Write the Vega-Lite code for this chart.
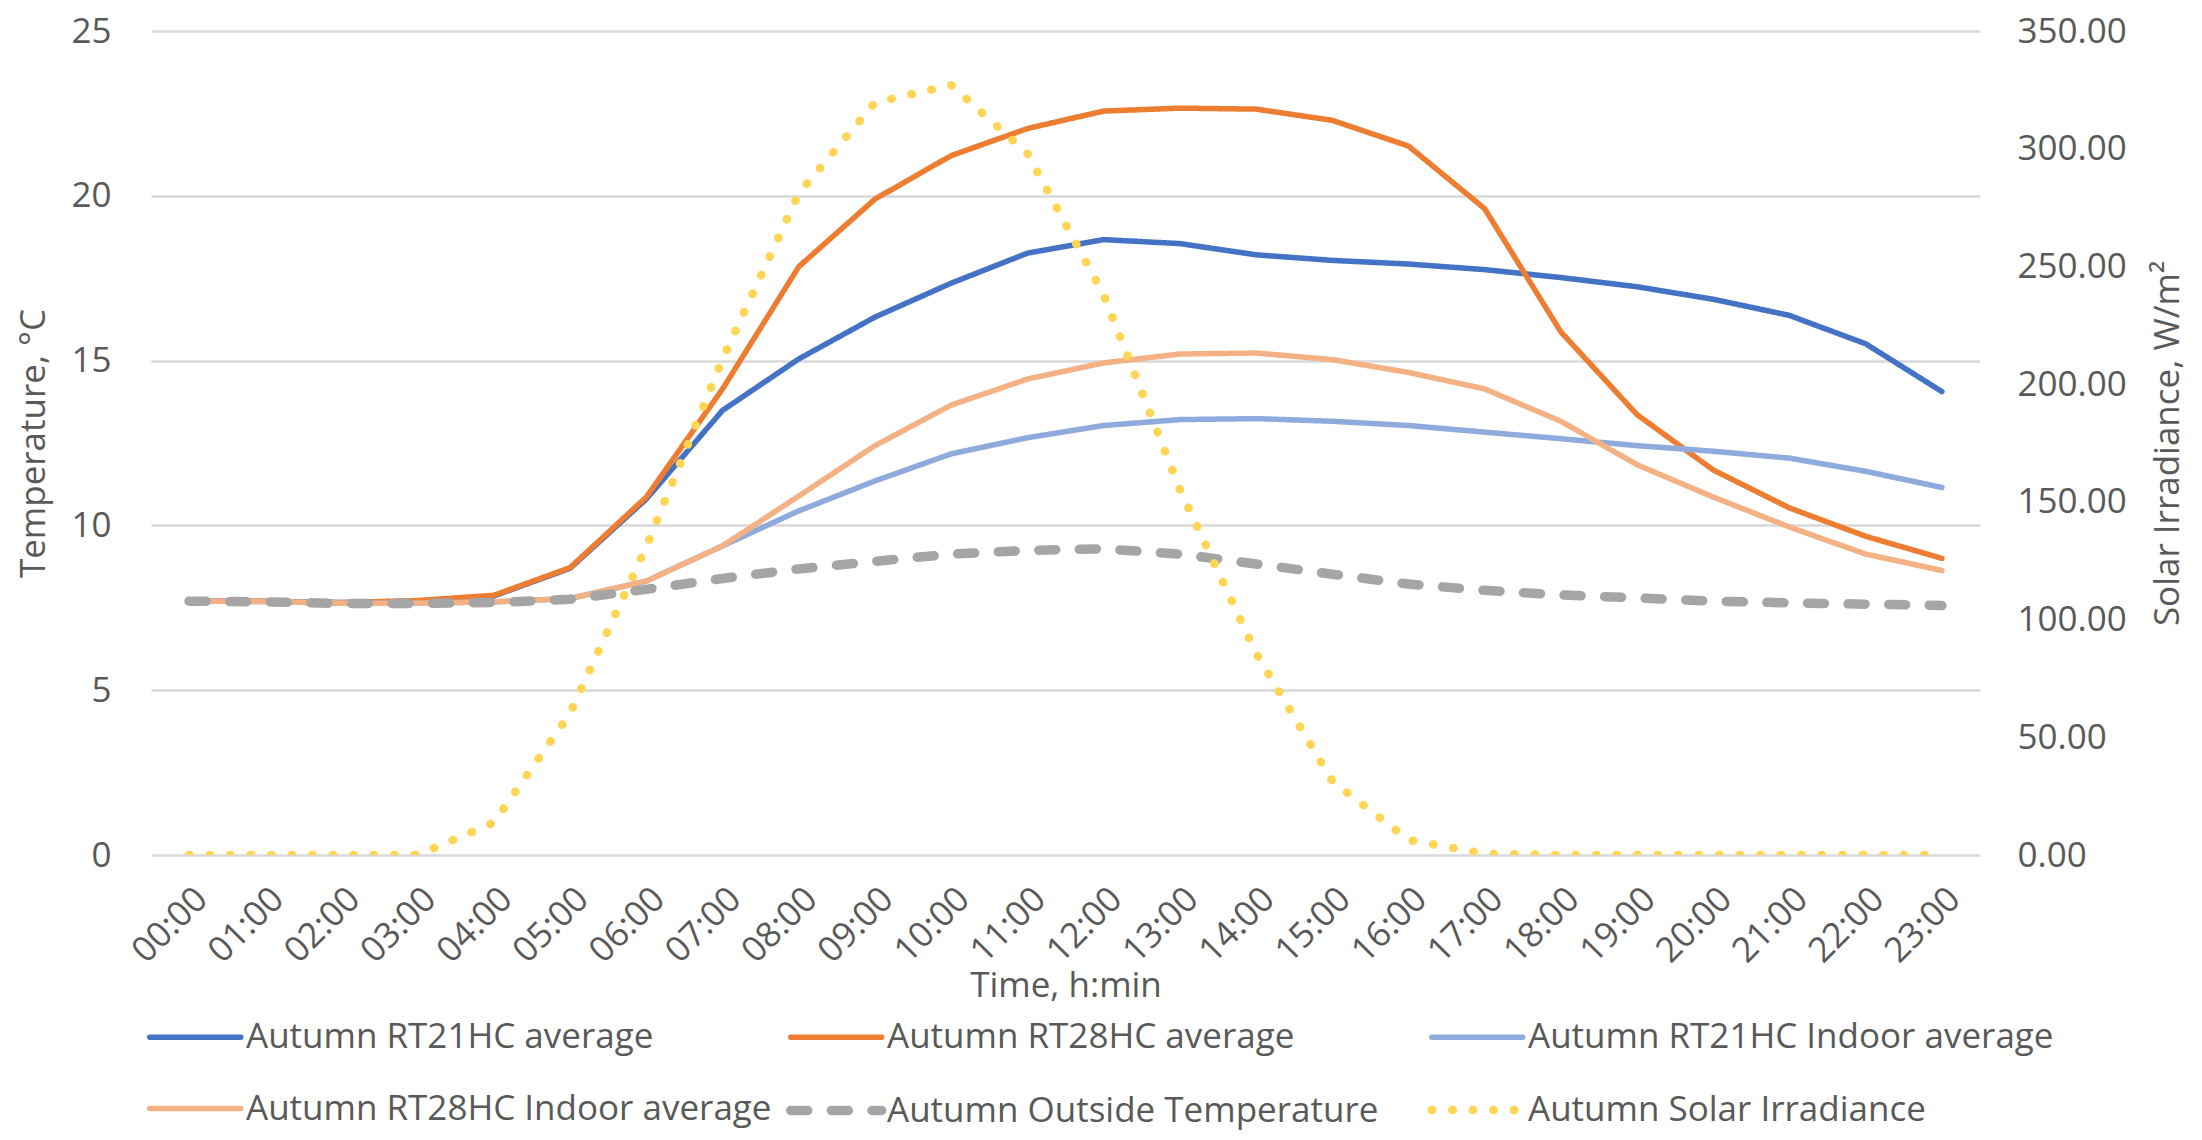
{
  "$schema": "https://vega.github.io/schema/vega-lite/v6.json",
  "autosize": {"type": "none"},
  "width": 1829,
  "height": 824,
  "padding": {"left": 151, "top": 31, "right": 222, "bottom": 285},
  "background": "white",
  "config": {
    "font": "Open Sans",
    "view": {"stroke": null},
    "axis": {
      "labelFont": "Open Sans", "labelFontSize": 35, "labelColor": "#595959",
      "titleFont": "Open Sans", "titleFontSize": 35, "titleColor": "#595959", "titleFontWeight": "normal",
      "ticks": false, "domain": false
    },
    "legend": {
      "labelFont": "Open Sans", "labelFontSize": 35, "labelColor": "#595959", "labelLimit": 0
    }
  },
  "datasets": {
    "temp": [
      {"time": "00:00", "series": "Autumn RT21HC average", "value": 7.70},
      {"time": "01:00", "series": "Autumn RT21HC average", "value": 7.70},
      {"time": "02:00", "series": "Autumn RT21HC average", "value": 7.66},
      {"time": "03:00", "series": "Autumn RT21HC average", "value": 7.70},
      {"time": "04:00", "series": "Autumn RT21HC average", "value": 7.86},
      {"time": "05:00", "series": "Autumn RT21HC average", "value": 8.70},
      {"time": "06:00", "series": "Autumn RT21HC average", "value": 10.80},
      {"time": "07:00", "series": "Autumn RT21HC average", "value": 13.49},
      {"time": "08:00", "series": "Autumn RT21HC average", "value": 15.05},
      {"time": "09:00", "series": "Autumn RT21HC average", "value": 16.32},
      {"time": "10:00", "series": "Autumn RT21HC average", "value": 17.35},
      {"time": "11:00", "series": "Autumn RT21HC average", "value": 18.26},
      {"time": "12:00", "series": "Autumn RT21HC average", "value": 18.67},
      {"time": "13:00", "series": "Autumn RT21HC average", "value": 18.55},
      {"time": "14:00", "series": "Autumn RT21HC average", "value": 18.21},
      {"time": "15:00", "series": "Autumn RT21HC average", "value": 18.04},
      {"time": "16:00", "series": "Autumn RT21HC average", "value": 17.93},
      {"time": "17:00", "series": "Autumn RT21HC average", "value": 17.76},
      {"time": "18:00", "series": "Autumn RT21HC average", "value": 17.52},
      {"time": "19:00", "series": "Autumn RT21HC average", "value": 17.24},
      {"time": "20:00", "series": "Autumn RT21HC average", "value": 16.86},
      {"time": "21:00", "series": "Autumn RT21HC average", "value": 16.37},
      {"time": "22:00", "series": "Autumn RT21HC average", "value": 15.51},
      {"time": "23:00", "series": "Autumn RT21HC average", "value": 14.06},

      {"time": "00:00", "series": "Autumn RT28HC average", "value": 7.70},
      {"time": "01:00", "series": "Autumn RT28HC average", "value": 7.70},
      {"time": "02:00", "series": "Autumn RT28HC average", "value": 7.66},
      {"time": "03:00", "series": "Autumn RT28HC average", "value": 7.72},
      {"time": "04:00", "series": "Autumn RT28HC average", "value": 7.88},
      {"time": "05:00", "series": "Autumn RT28HC average", "value": 8.72},
      {"time": "06:00", "series": "Autumn RT28HC average", "value": 10.86},
      {"time": "07:00", "series": "Autumn RT28HC average", "value": 14.14},
      {"time": "08:00", "series": "Autumn RT28HC average", "value": 17.85},
      {"time": "09:00", "series": "Autumn RT28HC average", "value": 19.90},
      {"time": "10:00", "series": "Autumn RT28HC average", "value": 21.22},
      {"time": "11:00", "series": "Autumn RT28HC average", "value": 22.04},
      {"time": "12:00", "series": "Autumn RT28HC average", "value": 22.57},
      {"time": "13:00", "series": "Autumn RT28HC average", "value": 22.66},
      {"time": "14:00", "series": "Autumn RT28HC average", "value": 22.63},
      {"time": "15:00", "series": "Autumn RT28HC average", "value": 22.29},
      {"time": "16:00", "series": "Autumn RT28HC average", "value": 21.51},
      {"time": "17:00", "series": "Autumn RT28HC average", "value": 19.61},
      {"time": "18:00", "series": "Autumn RT28HC average", "value": 15.87},
      {"time": "19:00", "series": "Autumn RT28HC average", "value": 13.36},
      {"time": "20:00", "series": "Autumn RT28HC average", "value": 11.68},
      {"time": "21:00", "series": "Autumn RT28HC average", "value": 10.53},
      {"time": "22:00", "series": "Autumn RT28HC average", "value": 9.67},
      {"time": "23:00", "series": "Autumn RT28HC average", "value": 9.00},

      {"time": "00:00", "series": "Autumn RT21HC Indoor average", "value": 7.70},
      {"time": "01:00", "series": "Autumn RT21HC Indoor average", "value": 7.69},
      {"time": "02:00", "series": "Autumn RT21HC Indoor average", "value": 7.64},
      {"time": "03:00", "series": "Autumn RT21HC Indoor average", "value": 7.64},
      {"time": "04:00", "series": "Autumn RT21HC Indoor average", "value": 7.68},
      {"time": "05:00", "series": "Autumn RT21HC Indoor average", "value": 7.78},
      {"time": "06:00", "series": "Autumn RT21HC Indoor average", "value": 8.31},
      {"time": "07:00", "series": "Autumn RT21HC Indoor average", "value": 9.38},
      {"time": "08:00", "series": "Autumn RT21HC Indoor average", "value": 10.44},
      {"time": "09:00", "series": "Autumn RT21HC Indoor average", "value": 11.35},
      {"time": "10:00", "series": "Autumn RT21HC Indoor average", "value": 12.17},
      {"time": "11:00", "series": "Autumn RT21HC Indoor average", "value": 12.66},
      {"time": "12:00", "series": "Autumn RT21HC Indoor average", "value": 13.03},
      {"time": "13:00", "series": "Autumn RT21HC Indoor average", "value": 13.21},
      {"time": "14:00", "series": "Autumn RT21HC Indoor average", "value": 13.24},
      {"time": "15:00", "series": "Autumn RT21HC Indoor average", "value": 13.16},
      {"time": "16:00", "series": "Autumn RT21HC Indoor average", "value": 13.03},
      {"time": "17:00", "series": "Autumn RT21HC Indoor average", "value": 12.83},
      {"time": "18:00", "series": "Autumn RT21HC Indoor average", "value": 12.63},
      {"time": "19:00", "series": "Autumn RT21HC Indoor average", "value": 12.42},
      {"time": "20:00", "series": "Autumn RT21HC Indoor average", "value": 12.25},
      {"time": "21:00", "series": "Autumn RT21HC Indoor average", "value": 12.04},
      {"time": "22:00", "series": "Autumn RT21HC Indoor average", "value": 11.64},
      {"time": "23:00", "series": "Autumn RT21HC Indoor average", "value": 11.15},

      {"time": "00:00", "series": "Autumn RT28HC Indoor average", "value": 7.70},
      {"time": "01:00", "series": "Autumn RT28HC Indoor average", "value": 7.69},
      {"time": "02:00", "series": "Autumn RT28HC Indoor average", "value": 7.64},
      {"time": "03:00", "series": "Autumn RT28HC Indoor average", "value": 7.64},
      {"time": "04:00", "series": "Autumn RT28HC Indoor average", "value": 7.68},
      {"time": "05:00", "series": "Autumn RT28HC Indoor average", "value": 7.78},
      {"time": "06:00", "series": "Autumn RT28HC Indoor average", "value": 8.31},
      {"time": "07:00", "series": "Autumn RT28HC Indoor average", "value": 9.38},
      {"time": "08:00", "series": "Autumn RT28HC Indoor average", "value": 10.89},
      {"time": "09:00", "series": "Autumn RT28HC Indoor average", "value": 12.42},
      {"time": "10:00", "series": "Autumn RT28HC Indoor average", "value": 13.65},
      {"time": "11:00", "series": "Autumn RT28HC Indoor average", "value": 14.44},
      {"time": "12:00", "series": "Autumn RT28HC Indoor average", "value": 14.93},
      {"time": "13:00", "series": "Autumn RT28HC Indoor average", "value": 15.20},
      {"time": "14:00", "series": "Autumn RT28HC Indoor average", "value": 15.23},
      {"time": "15:00", "series": "Autumn RT28HC Indoor average", "value": 15.03},
      {"time": "16:00", "series": "Autumn RT28HC Indoor average", "value": 14.64},
      {"time": "17:00", "series": "Autumn RT28HC Indoor average", "value": 14.14},
      {"time": "18:00", "series": "Autumn RT28HC Indoor average", "value": 13.16},
      {"time": "19:00", "series": "Autumn RT28HC Indoor average", "value": 11.84},
      {"time": "20:00", "series": "Autumn RT28HC Indoor average", "value": 10.86},
      {"time": "21:00", "series": "Autumn RT28HC Indoor average", "value": 9.95},
      {"time": "22:00", "series": "Autumn RT28HC Indoor average", "value": 9.13},
      {"time": "23:00", "series": "Autumn RT28HC Indoor average", "value": 8.63},

      {"time": "00:00", "series": "Autumn Outside Temperature", "value": 7.70},
      {"time": "01:00", "series": "Autumn Outside Temperature", "value": 7.68},
      {"time": "02:00", "series": "Autumn Outside Temperature", "value": 7.63},
      {"time": "03:00", "series": "Autumn Outside Temperature", "value": 7.63},
      {"time": "04:00", "series": "Autumn Outside Temperature", "value": 7.66},
      {"time": "05:00", "series": "Autumn Outside Temperature", "value": 7.76},
      {"time": "06:00", "series": "Autumn Outside Temperature", "value": 8.06},
      {"time": "07:00", "series": "Autumn Outside Temperature", "value": 8.39},
      {"time": "08:00", "series": "Autumn Outside Temperature", "value": 8.68},
      {"time": "09:00", "series": "Autumn Outside Temperature", "value": 8.91},
      {"time": "10:00", "series": "Autumn Outside Temperature", "value": 9.13},
      {"time": "11:00", "series": "Autumn Outside Temperature", "value": 9.24},
      {"time": "12:00", "series": "Autumn Outside Temperature", "value": 9.29},
      {"time": "13:00", "series": "Autumn Outside Temperature", "value": 9.13},
      {"time": "14:00", "series": "Autumn Outside Temperature", "value": 8.83},
      {"time": "15:00", "series": "Autumn Outside Temperature", "value": 8.52},
      {"time": "16:00", "series": "Autumn Outside Temperature", "value": 8.22},
      {"time": "17:00", "series": "Autumn Outside Temperature", "value": 8.03},
      {"time": "18:00", "series": "Autumn Outside Temperature", "value": 7.89},
      {"time": "19:00", "series": "Autumn Outside Temperature", "value": 7.80},
      {"time": "20:00", "series": "Autumn Outside Temperature", "value": 7.70},
      {"time": "21:00", "series": "Autumn Outside Temperature", "value": 7.65},
      {"time": "22:00", "series": "Autumn Outside Temperature", "value": 7.61},
      {"time": "23:00", "series": "Autumn Outside Temperature", "value": 7.57}
    ],
    "solar": [
      {"time": "00:00", "series": "Autumn Solar Irradiance", "value": 0},
      {"time": "01:00", "series": "Autumn Solar Irradiance", "value": 0},
      {"time": "02:00", "series": "Autumn Solar Irradiance", "value": 0},
      {"time": "03:00", "series": "Autumn Solar Irradiance", "value": 0},
      {"time": "04:00", "series": "Autumn Solar Irradiance", "value": 13.8},
      {"time": "05:00", "series": "Autumn Solar Irradiance", "value": 60.3},
      {"time": "06:00", "series": "Autumn Solar Irradiance", "value": 131.0},
      {"time": "07:00", "series": "Autumn Solar Irradiance", "value": 210.7},
      {"time": "08:00", "series": "Autumn Solar Irradiance", "value": 281.0},
      {"time": "09:00", "series": "Autumn Solar Irradiance", "value": 319.6},
      {"time": "10:00", "series": "Autumn Solar Irradiance", "value": 327.0},
      {"time": "11:00", "series": "Autumn Solar Irradiance", "value": 298.0},
      {"time": "12:00", "series": "Autumn Solar Irradiance", "value": 238.0},
      {"time": "13:00", "series": "Autumn Solar Irradiance", "value": 155.4},
      {"time": "14:00", "series": "Autumn Solar Irradiance", "value": 85.7},
      {"time": "15:00", "series": "Autumn Solar Irradiance", "value": 31.5},
      {"time": "16:00", "series": "Autumn Solar Irradiance", "value": 6.4},
      {"time": "17:00", "series": "Autumn Solar Irradiance", "value": 0.5},
      {"time": "18:00", "series": "Autumn Solar Irradiance", "value": 0},
      {"time": "19:00", "series": "Autumn Solar Irradiance", "value": 0},
      {"time": "20:00", "series": "Autumn Solar Irradiance", "value": 0},
      {"time": "21:00", "series": "Autumn Solar Irradiance", "value": 0},
      {"time": "22:00", "series": "Autumn Solar Irradiance", "value": 0},
      {"time": "23:00", "series": "Autumn Solar Irradiance", "value": 0}
    ]
  },
  "encoding": {
    "x": {
      "field": "time", "type": "ordinal", "sort": null,
      "scale": {"type": "point", "padding": 0.5},
      "axis": {"title": "Time, h:min", "labelAngle": -45, "labelPadding": 26, "titlePadding": 0, "grid": false}
    },
    "color": {
      "field": "series", "type": "nominal",
      "scale": {
        "domain": ["Autumn RT21HC average", "Autumn RT28HC average", "Autumn RT21HC Indoor average", "Autumn RT28HC Indoor average", "Autumn Outside Temperature", "Autumn Solar Irradiance"],
        "range": ["#4472C4", "#ED7D31", "#8FAADC", "#F4B183", "#A5A5A5", "#FFD553"]
      },
      "legend": {
        "title": null, "orient": "none", "direction": "horizontal", "legendX": -6, "legendY": 979, "columns": 3, "gridAlign": "all",
        "columnPadding": -1, "rowPadding": 26, "symbolType": "M-1,0H3", "symbolSize": 2070, "labelOffset": 46,
        "symbolFillColor": "transparent",
        "encode": {"symbols": {"update": {"strokeCap": {"value": "round"}}}}
      }
    },
    "strokeDash": {
      "field": "series", "type": "nominal",
      "scale": {
        "domain": ["Autumn RT21HC average", "Autumn RT28HC average", "Autumn RT21HC Indoor average", "Autumn RT28HC Indoor average", "Autumn Outside Temperature", "Autumn Solar Irradiance"],
        "range": [[1, 0], [1, 0], [1, 0], [1, 0], [17, 23.6], [0.5, 20]]
      },
      "legend": null
    },
    "strokeWidth": {
      "field": "series", "type": "nominal",
      "scale": {
        "type": "ordinal",
        "domain": ["Autumn RT21HC average", "Autumn RT28HC average", "Autumn RT21HC Indoor average", "Autumn RT28HC Indoor average", "Autumn Outside Temperature", "Autumn Solar Irradiance"],
        "range": [5.5, 5.5, 5.5, 5.5, 9.5, 8.5]
      },
      "legend": null
    }
  },
  "layer": [
    {
      "data": {"name": "temp"},
      "mark": {"type": "line", "strokeCap": "round", "strokeJoin": "round"},
      "encoding": {
        "y": {
          "field": "value", "type": "quantitative",
          "scale": {"domain": [0, 25], "nice": false, "zero": true},
          "axis": {"title": "Temperature, °C", "values": [0, 5, 10, 15, 20, 25], "grid": true, "gridColor": "#d9d9d9", "gridWidth": 2.5, "labelPadding": 40, "titlePadding": 19}
        }
      }
    },
    {
      "data": {"name": "solar"},
      "mark": {"type": "line", "strokeCap": "round", "strokeJoin": "round", "clip": true},
      "encoding": {
        "y": {
          "field": "value", "type": "quantitative",
          "scale": {"domain": [0, 350], "nice": false},
          "axis": {"orient": "right", "title": "Solar Irradiance, W/m²", "titleAngle": -90, "format": ".2f", "values": [0, 50, 100, 150, 200, 250, 300, 350], "grid": false, "labelPadding": 37, "titlePadding": 59}
        }
      }
    }
  ],
  "resolve": {"scale": {"y": "independent"}}
}
